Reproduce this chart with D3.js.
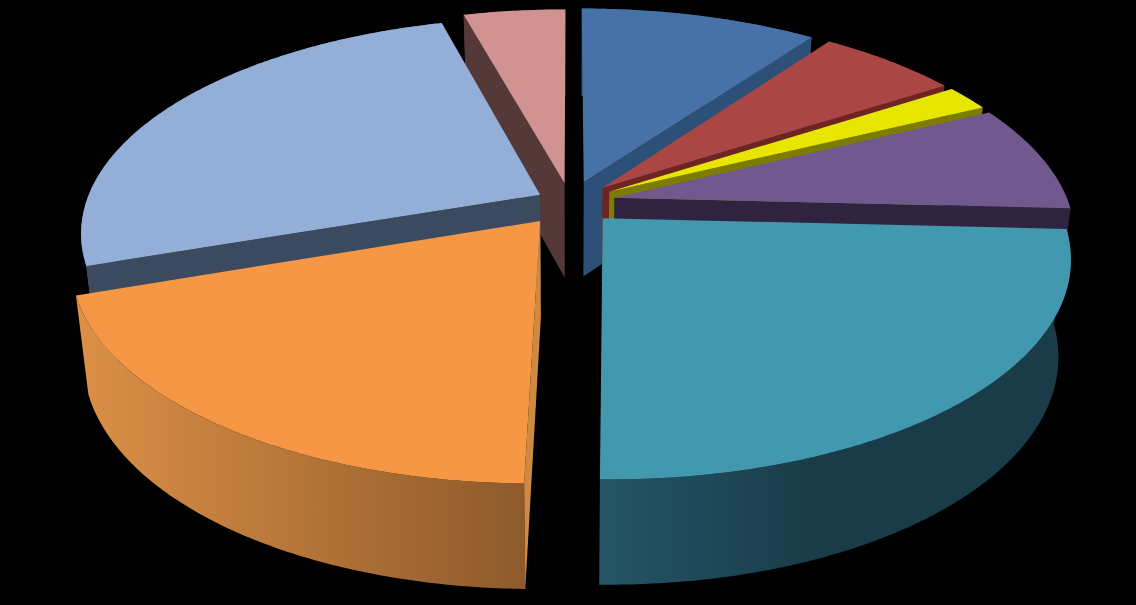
<!DOCTYPE html>
<html>
<head>
<meta charset="utf-8">
<script src="https://cdn.jsdelivr.net/npm/d3@7"></script>
<style>
  html, body { margin: 0; padding: 0; background: #000; overflow: hidden; }
</style>
</head>
<body>
<svg id="chart" width="1136" height="605"></svg>
<script>
// slice values, clockwise from 12 o'clock
const sliceNames = ["blue", "red", "yellow", "purple", "teal", "orange", "lightblue", "pink"];
const sliceValues = [9.9, 5.9, 1.9, 8.0, 24.4, 19.4, 25.9, 4.25];

// colours of top, cut faces and outer wall
const topColors = ["#4672A8", "#AA4643", "#E6E600", "#71588F", "#4198AF", "#F59744", "#93AFD8", "#D19392"];
const faceColors = ["#2C5078", "#6D2422", "#7C7C00", "#2F2340", "#1F4A59", "#CF8A42", "#3B4A5E", "#553838"];
const wallRight = ["#2C5078", "#6D2422", "#7C7C00", "#2F2340", "#1A3C49", "#8E5A2B", "#4F6F95", "#553838"];
const wallLeft = ["#2C5078", "#6D2422", "#7C7C00", "#3A2B50", "#245567", "#DC9046", "#4F6F95", "#553838"];
// how far each slice is pulled out
const sliceExplode = [0.1, 0.1, 0.1, 0.1, 0.104, 0.11, 0.075, 0.09];

// back slices first so the front ones cover them
const drawOrder = [7, 0, 1, 2, 3, 6, 5, 4];

// camera
const cx = 570, cy = 202;
const radiusX = 454, radiusY = 210, depth = 95;
const persp = 5.8;
const bottomShrink = 0.025; // bottom disk is a bit narrower than the top

const svg = d3.select("#chart");
svg.append("rect").attr("width", 1136).attr("height", 605).attr("fill", "#000");
const defs = svg.append("defs");

const pie = d3.pie().sort(null)(sliceValues);

// disk coordinates -> screen. h = 0 top of the pie, h = 1 bottom
function project(angle, r, h, mid, e) {
    const X = r * Math.sin(angle) + e * Math.sin(mid);
    const Y = -r * Math.cos(angle) - e * Math.cos(mid);
    const s = persp / (persp - Y);
    return [
        cx + radiusX * X * s * (1 - bottomShrink * h),
        cy + radiusY * Y * s + depth * h * Math.sqrt(s)
    ];
}

const line = d3.line();

drawOrder.forEach(i => {
    const d = pie[i];
    const mid = (d.startAngle + d.endAngle) / 2;
    const e = sliceExplode[i];
    const g = svg.append("g").attr("class", "slice " + sliceNames[i]);

    const rim = h => {
        const n = Math.ceil((d.endAngle - d.startAngle) / 0.01);
        return d3.range(n + 1).map(k =>
            project(d.startAngle + (d.endAngle - d.startAngle) * k / n, 1, h, mid, e));
    };

    // outer wall, shaded left to right
    const xs = rim(0).map(p => p[0]);
    const grad = defs.append("linearGradient")
        .attr("id", "wall" + i)
        .attr("gradientUnits", "userSpaceOnUse")
        .attr("x1", d3.min(xs)).attr("x2", d3.max(xs))
        .attr("y1", 0).attr("y2", 0);
    grad.append("stop").attr("offset", 0).attr("stop-color", wallLeft[i]);
    // teal goes flat after the first part
    grad.append("stop").attr("offset", sliceNames[i] === "teal" ? 0.45 : 1).attr("stop-color", wallRight[i]);
    g.append("path")
        .attr("d", line(rim(0).concat(rim(1).reverse())) + "Z")
        .attr("fill", "url(#wall" + i + ")");

    // cut faces, only the ones turned towards the viewer
    const faces = [];
    if (Math.sin(d.startAngle) < 0) faces.push(d.startAngle);
    if (Math.sin(d.endAngle) > 0) faces.push(d.endAngle);
    faces.forEach(a => {
        g.append("path")
            .attr("d", line([
                project(a, 0, 0, mid, e), project(a, 1, 0, mid, e),
                project(a, 1, 1, mid, e), project(a, 0, 1, mid, e)
            ]) + "Z")
            .attr("fill", faceColors[i]);
    });

    // top
    g.append("path")
        .attr("d", line([project(0, 0, 0, mid, e)].concat(rim(0))) + "Z")
        .attr("fill", topColors[i]);
});
</script>
</body>
</html>
